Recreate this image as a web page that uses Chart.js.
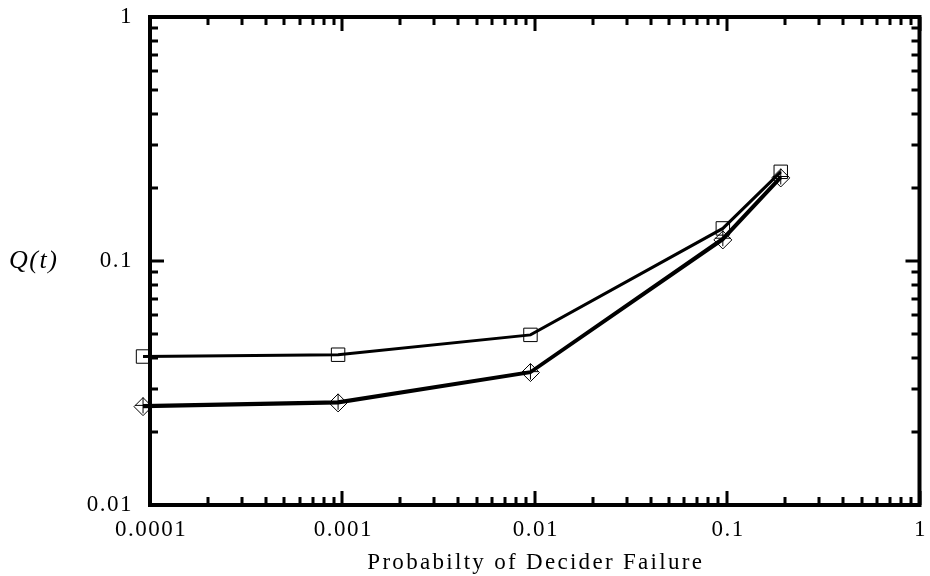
<!DOCTYPE html>
<html>
<head>
<meta charset="utf-8">
<script src="https://cdn.jsdelivr.net/npm/chart.js@4/dist/chart.umd.min.js"></script>
<style>
  html, body { margin: 0; padding: 0; background: #fff; }
  #wrap { width: 930px; height: 576px; }
</style>
</head>
<body>
<div id="wrap"><canvas id="c" width="930" height="576"></canvas></div>
<script>
// Decider failure probability (x) and Q(t) for each configuration
const failureProb = [0.000092, 0.00095, 0.0095, 0.095, 0.19];
const qSquare  = [0.0406, 0.0413, 0.0498, 0.136, 0.232];
const qDiamond = [0.0253, 0.0262, 0.0349, 0.122, 0.219];
const qPlus    = [0.0256, 0.0265, 0.0352, 0.124, 0.222];

const xTickValues = [0.0001, 0.001, 0.01, 0.1, 1];
const xTickLabels = ['0.0001', '0.001', '0.01', '0.1', '1'];
const yTickValues = [0.01, 0.1, 1];
const yTickLabels = ['0.01', '0.1', '1'];

const xTitle = 'Probabilty of Decider Failure';
const yTitle = 'Q(t)';

const SERIF = '"Liberation Serif", "DejaVu Serif", serif';

function pts(ys) { return failureProb.map((x, i) => ({ x, y: ys[i] })); }

function series(label, ys, style, radius) {
  return {
    label, data: pts(ys),
    borderColor: '#000', borderWidth: 3,
    pointStyle: style, pointRadius: radius, pointHoverRadius: radius,
    pointBorderColor: '#000', pointBorderWidth: 1,
    pointBackgroundColor: 'rgba(0,0,0,0)',
    tension: 0, clip: false
  };
}

// Frame, inward tick marks, horizontal tick labels and axis names
const framePlugin = {
  id: 'frame',
  beforeDraw(chart) { chart.ctx.letterSpacing = '1.5px'; },
  afterDraw(chart) {
    const { ctx, chartArea: a, scales } = chart;
    ctx.save();
    ctx.letterSpacing = '0px';
    ctx.strokeStyle = '#000';
    ctx.lineCap = 'butt';
    // tick marks
    ctx.lineWidth = 3;
    const minorX = [], minorY = [];
    for (let e = -4; e < 0; e++) for (let m = 2; m <= 9; m++) minorX.push(m * Math.pow(10, e));
    for (let e = -2; e < 0; e++) for (let m = 2; m <= 9; m++) minorY.push(m * Math.pow(10, e));
    const xs = scales.x, ys = scales.y;
    ctx.beginPath();
    const tickX = (v, len) => {
      const p = Math.round(xs.getPixelForValue(v));
      ctx.moveTo(p, a.bottom); ctx.lineTo(p, a.bottom - len);
      ctx.moveTo(p, a.top); ctx.lineTo(p, a.top + len);
    };
    const tickY = (v, len) => {
      const p = Math.round(ys.getPixelForValue(v));
      ctx.moveTo(a.left, p); ctx.lineTo(a.left + len, p);
      ctx.moveTo(a.right, p); ctx.lineTo(a.right - len, p);
    };
    xTickValues.forEach(v => tickX(v, 14));
    minorX.forEach(v => tickX(v, 8));
    yTickValues.forEach(v => tickY(v, 14));
    minorY.forEach(v => tickY(v, 8));
    ctx.stroke();
    // frame
    ctx.lineWidth = 4;
    ctx.strokeRect(a.left, a.top, a.right - a.left, a.bottom - a.top);
    ctx.fillStyle = '#000';
    ctx.textBaseline = 'middle';
    // horizontal tick labels
    ctx.font = '23px ' + SERIF;
    ctx.textAlign = 'center';
    ctx.letterSpacing = '1.5px';
    xTickValues.forEach((v, i) => ctx.fillText(xTickLabels[i], xs.getPixelForValue(v) + 1, 530));
    // vertical-axis name, set horizontally
    ctx.font = 'italic 26px ' + SERIF;
    ctx.textAlign = 'left';
    ctx.letterSpacing = '1.5px';
    ctx.fillText(yTitle, 9, ys.getPixelForValue(0.1));
    // horizontal-axis name
    ctx.font = '23px ' + SERIF;
    ctx.textAlign = 'center';
    ctx.letterSpacing = '2.3px';
    ctx.fillText(xTitle, (a.left + a.right) / 2 + 1, 563);
    ctx.restore();
    ctx.letterSpacing = '0px';
  }
};

new Chart(document.getElementById('c'), {
  type: 'line',
  data: {
    datasets: [
      series('square', qSquare, 'rect', 9.5),
      series('diamond', qDiamond, 'rectRot', 9),
      series('plus', qPlus, 'cross', 8)
    ]
  },
  options: {
    responsive: false,
    animation: false,
    layout: { padding: { top: 17, right: 1, left: 0, bottom: 0 } },
    plugins: { legend: { display: false }, tooltip: { enabled: false } },
    scales: {
      x: {
        type: 'logarithmic', min: 0.0001, max: 1,
        grid: { display: false, drawTicks: false },
        border: { display: false },
        afterBuildTicks: s => { s.ticks = xTickValues.map(v => ({ value: v, major: true })); },
        afterFit: s => { s.height = 71; s.paddingLeft = 0; s.paddingRight = 0; },
        ticks: { display: false }
      },
      y: {
        type: 'logarithmic', min: 0.01, max: 1,
        grid: { display: false, drawTicks: false },
        border: { display: false },
        afterBuildTicks: s => { s.ticks = yTickValues.map(v => ({ value: v, major: true })); },
        afterFit: s => { s.width = 150; s.paddingTop = 0; s.paddingBottom = 0; },
        ticks: {
          autoSkip: false, padding: 17, color: '#000',
          font: { family: SERIF, size: 23 },
          callback: (v) => { const i = yTickValues.findIndex(t => Math.abs(t - v) / t < 1e-6); return i >= 0 ? yTickLabels[i] : ''; }
        }
      }
    }
  },
  plugins: [framePlugin]
});
</script>
</body>
</html>
